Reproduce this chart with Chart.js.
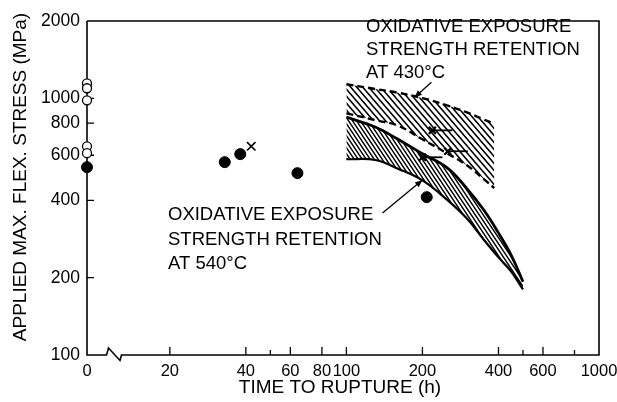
<!DOCTYPE html>
<html>
<head>
<meta charset="utf-8">
<script src="https://cdn.jsdelivr.net/npm/chart.js@4.4.0/dist/chart.umd.min.js"></script>
<style>
    html, body { margin: 0; padding: 0; background: #fff; }
    #wrap { width: 617px; height: 402px; position: relative; }
</style>
</head>
<body>
<div id="wrap"><canvas id="chart"></canvas></div>
<script>
// Time to rupture (h) and applied stress (MPa); time 0 sits at the axis break
const openTime = [0, 0, 0, 0, 0];
const openStress = [1144, 1094, 982, 650, 611];
const filledTime = [0, 33, 38, 64, 208];
const filledStress = [539, 564, 606, 511, 412];
const crossTime = [42];
const crossStress = [650];
const runoutTime = [219, 252, 200];
const runoutStress = [750, 622, 589];

// Strength retention bands
const band430Time = [100, 130, 160, 200, 250, 300, 350, 385];
const band430Upper = [1134, 1087, 1051, 1002, 939, 881, 826, 797];
const band430Lower = [874, 822, 782, 692, 611, 548, 484, 447];
const band540Time = [100, 130, 160, 200, 250, 300, 350, 400, 450, 500];
const band540Upper = [844, 773, 692, 608, 537, 445, 367, 299, 244, 193];
const band540Lower = [579, 575, 532, 479, 403, 340, 281, 240, 211, 180];

// Axis ticks
const xTicks = [0, 20, 40, 50, 60, 80, 100, 200, 400, 500, 600, 800, 1000];
const xLabelled = [0, 20, 40, 60, 80, 100, 200, 400, 600, 1000];
const yTicks = [100, 200, 400, 600, 800, 1000, 2000];

const X_ZERO = 9.4;
const FONT = '"Liberation Sans", Arial, Helvetica, sans-serif';

const toX = t => (t === 0 ? X_ZERO : t);
const pts = (xs, ys) => xs.map((x, i) => ({ x: toX(x), y: ys[i] }));

function hatch(w, h, lw) {
    const c = document.createElement('canvas');
    c.width = w;
    c.height = h;
    const g = c.getContext('2d');
    g.strokeStyle = '#000';
    g.lineWidth = lw;
    g.beginPath();
    for (const dx of [-w, 0, w]) {
        g.moveTo(dx - w, -h);
        g.lineTo(dx + 2 * w, 2 * h);
    }
    g.stroke();
    return g.createPattern(c, 'repeat');
}

function arrowHead(g, x0, y0, x1, y1, size) {
    const a = Math.atan2(y1 - y0, x1 - x0);
    g.beginPath();
    g.moveTo(x1, y1);
    g.lineTo(x1 - size * Math.cos(a - 0.4), y1 - size * Math.sin(a - 0.4));
    g.lineTo(x1 - size * Math.cos(a + 0.4), y1 - size * Math.sin(a + 0.4));
    g.closePath();
    g.fill();
}

// Frame with axis break, inward ticks, titles and notes
const decor = {
    id: 'decor',
    beforeDatasetsDraw(chart) {
        const g = chart.ctx;
        const { left, right, top, bottom } = chart.chartArea;
        const xs = chart.scales.x, ys = chart.scales.y;
        g.save();
        g.strokeStyle = '#000';
        g.lineWidth = 1.6;
        g.beginPath();
        g.moveTo(left, top);
        g.lineTo(left, bottom);
        g.lineTo(left + 19.5, bottom);
        g.lineTo(left + 21.5, bottom - 7);
        g.lineTo(left + 33, bottom + 5.5);
        g.lineTo(left + 34.5, bottom);
        g.lineTo(right, bottom);
        g.lineTo(right, top);
        g.lineTo(left, top);
        g.stroke();

        g.lineWidth = 1.3;
        g.beginPath();
        xTicks.forEach(v => {
            if (v === 0 || v === 1000) return;
            const px = xs.getPixelForValue(v);
            const len = xLabelled.includes(v) ? 8 : 5;
            g.moveTo(px, bottom);
            g.lineTo(px, bottom - len);
        });
        yTicks.forEach(v => {
            if (v === 100 || v === 2000) return;
            const py = ys.getPixelForValue(v);
            g.moveTo(left, py);
            g.lineTo(left + 7, py);
        });
        g.stroke();
        g.restore();
    },
    afterDraw(chart) {
        const g = chart.ctx;
        const xs = chart.scales.x, ys = chart.scales.y;
        g.save();
        g.fillStyle = '#000';
        g.strokeStyle = '#000';

        // axis titles
        g.font = '19px ' + FONT;
        g.textAlign = 'center';
        g.textBaseline = 'middle';
        g.fillText('TIME TO RUPTURE (h)', 340, 388);
        g.save();
        g.translate(21, 177);
        g.rotate(-Math.PI / 2);
        g.fillText('APPLIED MAX. FLEX. STRESS (MPa)', 0, 0);
        g.restore();

        // band notes
        g.font = '18.5px ' + FONT;
        g.textAlign = 'left';
        ['OXIDATIVE EXPOSURE', 'STRENGTH RETENTION', 'AT 430\u00b0C'].forEach((s, i) => {
            g.fillText(s, 366, 27 + i * 23);
        });
        ['OXIDATIVE EXPOSURE', 'STRENGTH RETENTION', 'AT 540\u00b0C'].forEach((s, i) => {
            g.fillText(s, 168, 215 + i * 24.5);
        });

        // leaders
        const leaders = [[[217, 1154], [186, 1008]], [[139, 357], [200, 480]]];
        g.lineWidth = 1.3;
        leaders.forEach(([a, b]) => {
            const x0 = xs.getPixelForValue(a[0]), y0 = ys.getPixelForValue(a[1]);
            const x1 = xs.getPixelForValue(b[0]), y1 = ys.getPixelForValue(b[1]);
            g.beginPath();
            g.moveTo(x0, y0);
            g.lineTo(x1, y1);
            g.stroke();
            arrowHead(g, x0, y0, x1, y1, 8);
        });
        g.restore();
    }
};

const bandLine = (data, extra) => Object.assign({
    type: 'line',
    data: data,
    borderColor: '#000',
    pointRadius: 0,
    tension: 0.4,
    fill: false
}, extra);

const runoutTails = runoutTime.map((t, i) => ({
    type: 'line',
    data: [{ x: t, y: runoutStress[i] }, { x: t * 1.2, y: runoutStress[i] }],
    borderColor: '#000',
    borderWidth: 1.8,
    pointRadius: 0,
    fill: false
}));

Chart.defaults.font.family = FONT;
Chart.defaults.color = '#000';

const ctx = document.getElementById('chart').getContext('2d');
const stressChart = new Chart(ctx, {
    type: 'scatter',
    data: {
        datasets: [
            bandLine(pts(band430Time, band430Lower), { borderWidth: 2.4, borderDash: [7, 4] }),
            bandLine(pts(band430Time, band430Upper), {
                borderWidth: 2.4, borderDash: [7, 4],
                fill: '-1', backgroundColor: hatch(6, 7, 1.5)
            }),
            bandLine(pts(band540Time, band540Lower), { borderWidth: 2.2 }),
            bandLine(pts(band540Time, band540Upper), {
                borderWidth: 2.8,
                fill: '-1', backgroundColor: hatch(4, 6, 1.5)
            }),
            ...runoutTails,
            {
                data: pts(runoutTime, runoutStress),
                pointStyle: 'crossRot', pointRadius: 5,
                borderColor: '#000', borderWidth: 2.2
            },
            {
                data: pts(crossTime, crossStress),
                pointStyle: 'crossRot', pointRadius: 6,
                borderColor: '#000', borderWidth: 1.6
            },
            {
                data: pts(openTime, openStress),
                pointStyle: 'circle', pointRadius: 4.5,
                backgroundColor: '#fff', borderColor: '#000', borderWidth: 1.3,
                clip: false
            },
            {
                data: pts(filledTime, filledStress),
                pointStyle: 'circle', pointRadius: 5.5,
                backgroundColor: '#000', borderColor: '#000', borderWidth: 1,
                clip: false
            }
        ]
    },
    options: {
        responsive: true,
        maintainAspectRatio: false,
        animation: false,
        layout: { padding: { top: 21, right: 18, left: 0, bottom: 0 } },
        plugins: {
            legend: { display: false },
            tooltip: { enabled: false }
        },
        scales: {
            x: {
                type: 'logarithmic',
                min: X_ZERO,
                max: 1000,
                grid: { display: false, drawTicks: false },
                border: { display: false },
                afterFit: s => {
                    s.height = 47;
                    s.paddingLeft = 0;
                    s.paddingRight = 0;
                },
                afterBuildTicks: s => { s.ticks = xTicks.map(v => ({ value: toX(v) })); },
                ticks: {
                    autoSkip: false,
                    maxRotation: 0,
                    padding: 7,
                    font: { size: 16.5 },
                    callback: v => {
                        if (Math.abs(v - X_ZERO) < 1e-6) return '0';
                        return xLabelled.includes(v) ? String(v) : '';
                    }
                }
            },
            y: {
                type: 'logarithmic',
                min: 100,
                max: 2000,
                grid: { display: false, drawTicks: false },
                border: { display: false },
                afterFit: s => {
                    s.width = 87;
                    s.paddingTop = 0;
                    s.paddingBottom = 0;
                },
                afterBuildTicks: s => { s.ticks = yTicks.map(v => ({ value: v })); },
                ticks: {
                    autoSkip: false,
                    padding: 7,
                    font: { size: 17.5 },
                    callback: v => String(v)
                }
            }
        }
    },
    plugins: [decor]
});
</script>
</body>
</html>
